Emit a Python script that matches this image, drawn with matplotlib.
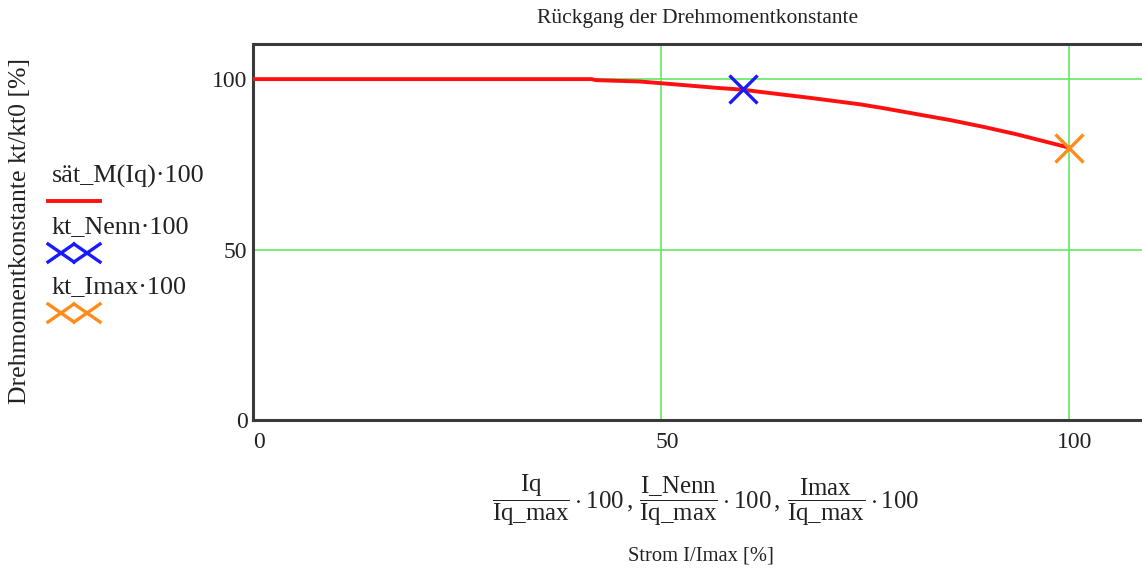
import matplotlib
matplotlib.use("Agg")
import matplotlib.pyplot as plt
from matplotlib.lines import Line2D
import matplotlib.transforms as mtransforms

plt.rcParams['font.family'] = ['Liberation Serif', 'DejaVu Serif']
plt.rcParams['mathtext.fontset'] = 'custom'
plt.rcParams['mathtext.rm'] = 'Liberation Serif'
plt.rcParams['mathtext.it'] = 'Liberation Serif'

# --- data ---
strom_pct = [0, 41.5, 42.0, 47.4, 51.0, 57.0, 60.0, 62.0, 68.6, 74.4, 77.2,
             81.4, 85.4, 89.5, 93.6, 97.7, 100.0]
kt_pct = [100, 100, 99.7, 99.3, 98.6, 97.4, 96.9, 96.3, 94.4, 92.6, 91.5,
          89.7, 88.0, 86.0, 83.8, 81.3, 79.9]
nenn_x, nenn_y = [60.0], [97.0]
imax_x, imax_y = [100.0], [79.9]
xticks = [0, 50, 100]
yticks = [0, 50, 100]
legend_labels = ["sät_M(Iq)·100", "kt_Nenn·100", "kt_Imax·100"]
title = "Rückgang der Drehmomentkonstante"
ylabel = "Drehmomentkonstante kt/kt0 [%]"
xlabel_sub = "Strom I/Imax [%]"

W, H = 1142, 572
fig = plt.figure(figsize=(W / 100, H / 100), dpi=100)

ax_l, ax_b, ax_t = 253, 420, 44
xmax = 110.0
px_per_x = (1069 - 253) / 100.0
ax_w = xmax * px_per_x
ax = fig.add_axes([ax_l / W, 1 - ax_b / H, ax_w / W, (ax_b - ax_t) / H])
ax.set_xlim(0, xmax)
ax.set_ylim(0, 110.3)

for s in ['left', 'bottom', 'top']:
    ax.spines[s].set_color('#3a3a3a')
    ax.spines[s].set_linewidth(2.2)
ax.spines['right'].set_visible(False)

grid_c = '#62ea62'
for gx in [50, 100]:
    ax.axvline(gx, color=grid_c, lw=1.2, zorder=1)
for gy in [50, 100]:
    ax.axhline(gy, color=grid_c, lw=1.2, zorder=1)

ax.plot(strom_pct, kt_pct, color='#ff1010', lw=2.8, zorder=3)
ax.plot(nenn_x, nenn_y, ls='none', marker='x', ms=19.5, mew=2.4, color='#1a1aff', zorder=4)
ax.plot(imax_x, imax_y, ls='none', marker='x', ms=19.5, mew=2.4, color='#ff8c1a', zorder=4)

ax.set_xticks(xticks)
ax.set_yticks(yticks)
ax.set_xticklabels([str(v) for v in xticks])
ax.set_yticklabels([str(v) for v in yticks])
ax.tick_params(length=0, labelsize=17, colors='#222222')
ax.tick_params(axis='x', pad=9)
ax.tick_params(axis='y', pad=4)
off = mtransforms.ScaledTranslation(6 / 100, 0, fig.dpi_scale_trans)
for lab in ax.get_xticklabels():
    lab.set_transform(lab.get_transform() + off)

fig.text(698 / W, 1 - 18 / H, title, ha='center', va='center', fontsize=15.5, color='#222222')
fig.text(20 / W, 1 - 231 / H, ylabel, ha='center', va='center', rotation=90, fontsize=18.5, color='#222222')

expr = (r"$\dfrac{\mathrm{Iq}}{\mathrm{Iq\_max}}\cdot 100\,,\,"
        r"\dfrac{\mathrm{I\_Nenn}}{\mathrm{Iq\_max}}\cdot 100\,,\,"
        r"\dfrac{\mathrm{Imax}}{\mathrm{Iq\_max}}\cdot 100$")
fig.text(706 / W, 1 - 500 / H, expr, ha='center', va='center', fontsize=17.9, color='#222222')
fig.text(701 / W, 1 - 556 / H, xlabel_sub, ha='center', va='center', fontsize=14.8, color='#222222')

# --- manual legend (Mathcad style) ---
def fx(px):
    return px / W

def fy(py):
    return 1 - py / H

fig.text(fx(52), fy(176), legend_labels[0], ha='left', va='center', fontsize=18.8, color='#222222')
fig.add_artist(Line2D([fx(48), fx(100)], [fy(201), fy(201)], color='#ff1010', lw=2.8))
fig.text(fx(52), fy(227), legend_labels[1], ha='left', va='center', fontsize=18.8, color='#222222')
fig.text(fx(52), fy(287), legend_labels[2], ha='left', va='center', fontsize=18.8, color='#222222')

def double_x(yc, color):
    for x0 in (48, 74):
        x1 = x0 + 26
        fig.add_artist(Line2D([fx(x0), fx(x1)], [fy(yc - 9), fy(yc + 9)], color=color, lw=2.4))
        fig.add_artist(Line2D([fx(x0), fx(x1)], [fy(yc + 9), fy(yc - 9)], color=color, lw=2.4))

double_x(253, '#1a1aff')
double_x(313, '#ff8c1a')

fig.savefig('out.png', dpi=100)
